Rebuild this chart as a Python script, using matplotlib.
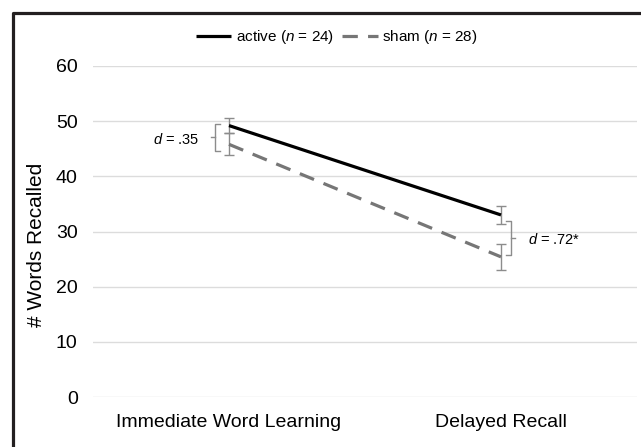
import matplotlib
matplotlib.use("Agg")
import matplotlib.pyplot as plt
from matplotlib.lines import Line2D

plt.rcParams['font.family'] = ['Liberation Sans', 'DejaVu Sans']
plt.rcParams['mathtext.fontset'] = 'custom'
plt.rcParams['mathtext.it'] = 'Liberation Sans:italic'
plt.rcParams['mathtext.rm'] = 'Liberation Sans'

# data
phases = ["Immediate Word Learning", "Delayed Recall"]
active_mean = [49.2, 33.0]
active_err = [1.4, 1.7]
sham_mean = [45.8, 25.4]
sham_err = [2.0, 2.4]
effect_labels = ["$d$ = .35", "$d$ = .72*"]
yticks = [0, 10, 20, 30, 40, 50, 60]

W, H = 641, 447
fig = plt.figure(figsize=(W / 100, H / 100), dpi=100)
ax = fig.add_axes([93 / W, 1 - 397 / H, (637 - 93) / W, (397 - 66) / H])

x = list(range(len(phases)))
ax.errorbar(x, active_mean, yerr=active_err, fmt='none', ecolor='#8c8c8c',
            elinewidth=1, capsize=3.5, capthick=1, zorder=3)
ax.errorbar(x, sham_mean, yerr=sham_err, fmt='none', ecolor='#8c8c8c',
            elinewidth=1, capsize=3.5, capthick=1, zorder=3)
ax.plot(x, active_mean, color='black', lw=2.3, solid_capstyle='butt', zorder=4,
        label='active ($n$ = 24)')
ax.plot(x, sham_mean, color='#767676', lw=2.3, dashes=(4.8, 3.2), zorder=4,
        label='sham ($n$ = 28)')

# effect size braces
def brace(xc, y0, y1, side):
    tick = 0.018 * side
    ym = (y0 + y1) / 2
    kw = dict(color='#8c8c8c', lw=1, clip_on=False, zorder=3)
    ax.plot([xc + tick, xc, xc, xc + tick], [y1, y1, y0, y0], **kw)
    ax.plot([xc, xc - tick], [ym, ym], **kw)
    return ym

ym = brace(-0.05, sham_mean[0] - 1.2, active_mean[0] + 0.3, 1)
ax.text(-0.11, ym - 0.3, effect_labels[0], ha='right', va='center', fontsize=10.5)
ym = brace(0.035 + 1, sham_mean[1] + 0.3, active_mean[1] - 1.1, -1)
ax.text(1.1, ym - 0.3, effect_labels[1], ha='left', va='center', fontsize=10.5)

ax.set_xlim(-0.5, 1.5)
ax.set_ylim(0, 60)
ax.set_yticks(yticks)
ax.set_xticks(x)
ax.set_xticklabels(phases)
ax.tick_params(axis='both', length=0, labelsize=14)
ax.tick_params(axis='y', pad=11)
ax.tick_params(axis='x', pad=12)
ax.grid(axis='y', color='#dcdcdc', lw=1)
ax.set_axisbelow(True)
for s in ax.spines.values():
    s.set_visible(False)

ax.set_ylabel('# Words Recalled', fontsize=15)
ax.yaxis.set_label_coords((46 - 93) / (637 - 93), 0.46)

ax.legend(loc='center', bbox_to_anchor=(337 / W, 1 - 37 / H),
          bbox_transform=fig.transFigure, ncol=2, frameon=False, fontsize=11,
          handlelength=2.3, handletextpad=0.3, columnspacing=0.55)

# outer frame (top and left edges visible)
fig.add_artist(Line2D([13 / W, 13 / W, 1.0], [0.0, 1 - 13 / H, 1 - 13 / H],
                      transform=fig.transFigure, color='#231f20', lw=2.3))

fig.savefig('out.png', dpi=100)
